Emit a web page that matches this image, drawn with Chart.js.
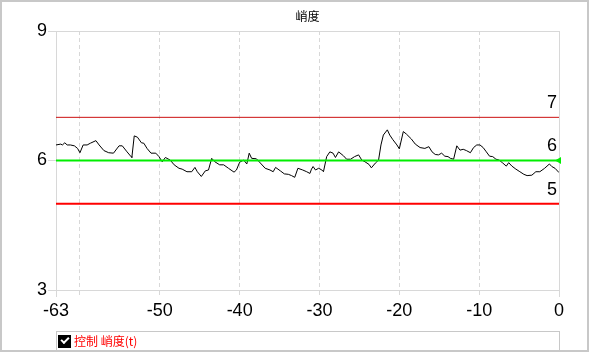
<!DOCTYPE html>
<html>
<head>
<meta charset="utf-8">
<script src="https://cdn.jsdelivr.net/npm/chart.js@4.4.1/dist/chart.umd.min.js"></script>
<style>
  html, body { margin:0; padding:0; background:#fff; }
  #wrap { position:relative; width:591px; height:353px; overflow:hidden; }
  #c { position:absolute; left:0; top:0; }
  #frame { position:absolute; left:0; top:0; width:589px; height:352px; box-sizing:border-box; border:2px solid #c8c8c8; pointer-events:none; }
  #legend { position:absolute; left:56px; top:331px; width:504px; height:20px; box-sizing:border-box; border:1px solid #c8c8c8; }
  #legend .cb { position:absolute; left:1px; top:3px; width:13px; height:13px; background:#000; }
  #legend .cb::after { content:""; position:absolute; left:3px; top:2px; width:6px; height:3px; border-left:2px solid #fff; border-bottom:2px solid #fff; transform:rotate(-45deg); transform-origin:center; }
  #legend .lt { position:absolute; left:17px; top:0px; font-family:"Noto Sans CJK SC", sans-serif; font-size:12px; line-height:18px; color:#ff0000; white-space:nowrap; }
</style>
</head>
<body>
<div id="wrap">
  <canvas id="c" width="591" height="353"></canvas>
  <div id="frame"></div>
  <div id="legend"><span class="cb"></span><span class="lt" id="legendText"></span></div>
</div>
<script>
// ---- data ----
const chartTitle = "峭度";
const seriesLabel = "控制 峭度(t)";
const times = [
  -63, -62.4, -62.2, -61.9, -61.6, -61.2, -60.7, -60.3, -60.0, -59.6,
  -59.1, -58.7, -58.0, -57.6, -57.0, -56.4, -55.8, -55.1, -54.7, -54.1,
  -53.6, -53.5, -53.2, -52.8, -52.3, -52.0, -51.6, -51.1, -50.5, -50.1,
  -49.7, -49.3, -48.7, -48.2, -47.6, -47.2, -46.6, -46.0, -45.6, -45.3,
  -44.8, -44.3, -43.9, -43.5, -43.1, -42.5, -42.0, -41.4, -40.7, -40.4,
  -40.0, -39.5, -39.1, -38.8, -38.5, -37.9, -37.4, -36.8, -36.2, -35.8,
  -35.5, -34.9, -34.4, -33.9, -33.5, -33.1, -32.7, -32.1, -31.6, -31.2,
  -31.0, -30.8, -30.5, -30.1, -29.7, -29.5, -29.1, -28.7, -28.3, -28.0,
  -27.6, -27.0, -26.6, -26.1, -25.6, -25.1, -24.7, -24.3, -23.8, -23.5,
  -23.0, -22.6, -22.3, -22.0, -21.5, -21.2, -20.8, -20.3, -20.0, -19.5,
  -19.1, -18.5, -18.0, -17.4, -16.8, -16.3, -15.9, -15.5, -15.1, -14.7,
  -14.3, -13.9, -13.6, -13.2, -12.8, -12.4, -12.0, -11.6, -11.1, -10.7,
  -10.3, -9.9, -9.5, -9.1, -8.7, -8.3, -7.9, -7.5, -7.1, -6.6,
  -6.3, -5.9, -5.4, -4.9, -4.4, -4.0, -3.4, -2.9, -2.4, -1.8,
  -1.2, -0.9, -0.5, 0
];
const kurtosis = [
  6.36, 6.38, 6.36, 6.41, 6.36, 6.36, 6.34, 6.28, 6.18, 6.36,
  6.36, 6.40, 6.46, 6.36, 6.23, 6.18, 6.17, 6.34, 6.34, 6.20,
  6.09, 6.07, 6.57, 6.54, 6.41, 6.40, 6.28, 6.17, 6.17, 6.09,
  5.97, 6.07, 6.01, 5.90, 5.82, 5.80, 5.74, 5.74, 5.84, 5.74,
  5.63, 5.76, 5.78, 6.05, 5.97, 5.90, 5.90, 5.82, 5.73, 5.78,
  5.96, 6.01, 5.92, 6.17, 6.05, 6.04, 5.94, 5.82, 5.78, 5.74,
  5.84, 5.76, 5.69, 5.68, 5.65, 5.61, 5.82, 5.78, 5.74, 5.70,
  5.80, 5.86, 5.78, 5.82, 5.78, 5.74, 6.09, 6.20, 6.17, 6.07,
  6.20, 6.11, 6.03, 6.03, 6.09, 6.13, 6.01, 5.97, 5.91, 5.83,
  5.94, 6.01, 6.36, 6.59, 6.71, 6.59, 6.48, 6.36, 6.27, 6.67,
  6.61, 6.50, 6.38, 6.30, 6.28, 6.32, 6.20, 6.14, 6.13, 6.17,
  6.10, 6.09, 6.05, 6.03, 6.34, 6.24, 6.26, 6.23, 6.18, 6.30,
  6.36, 6.36, 6.30, 6.20, 6.10, 6.09, 6.03, 6.01, 5.95, 5.87,
  5.95, 5.87, 5.80, 5.74, 5.68, 5.65, 5.66, 5.74, 5.74, 5.82,
  5.92, 5.86, 5.82, 5.72
];
const upperLimit = 7;
const target = 6;
const lowerLimit = 5;
const refLabels = ["7", "6", "5"];
const xTicks = [-63, -60, -50, -40, -30, -20, -10, 0];
const xTickLabels = ["-63", "", "-50", "-40", "-30", "-20", "-10", "0"];
const yTicks = [3, 6, 9];
const xMin = -63, xMax = 0, yMin = 3, yMax = 9;

// ---- chart ----
document.getElementById('legendText').textContent = seriesLabel;

const numFont = { family: "'Liberation Sans', Arial, sans-serif", size: 18 };
const gridColor = '#d8d8d8';
const dashFn = (ctx) => {
  if (!ctx.tick) return [];
  const v = ctx.tick.value;
  return (v === xMin || v === xMax) ? [] : [4, 3];
};

const refLabelPlugin = {
  id: 'refLabels',
  afterDatasetsDraw(chart) {
    const { ctx, chartArea, scales } = chart;
    const vals = [upperLimit, target, lowerLimit];
    ctx.save();
    ctx.font = "18px 'Liberation Sans', Arial, sans-serif";
    ctx.fillStyle = '#000';
    ctx.textAlign = 'right';
    ctx.textBaseline = 'middle';
    vals.forEach((v, i) => {
      ctx.fillText(refLabels[i], chartArea.right - 2, scales.y.getPixelForValue(v) - 14);
    });
    ctx.restore();
  }
};

const hLine = (v) => [{ x: xMin, y: v }, { x: xMax, y: v }];

new Chart(document.getElementById('c'), {
  type: 'line',
  data: {
    datasets: [
      { label: 'target', data: hLine(target), borderColor: '#00ee00', backgroundColor: '#00ee00',
        borderWidth: 2, pointRadius: [0, 4], pointStyle: 'triangle', rotation: -90,
        pointBackgroundColor: '#00ee00', pointBorderColor: '#00ee00', pointBorderWidth: 0, clip: false },
      { label: 'upper', data: hLine(upperLimit), borderColor: '#cc1010', borderWidth: 1, pointRadius: 0 },
      { label: 'lower', data: hLine(lowerLimit), borderColor: '#ff0000', borderWidth: 2, pointRadius: 0 },
      { label: seriesLabel, data: times.map((t, i) => ({ x: t, y: kurtosis[i] })),
        borderColor: '#000', borderWidth: 1, pointRadius: 0, tension: 0 }
    ]
  },
  options: {
    responsive: false,
    animation: false,
    devicePixelRatio: 1,
    layout: { padding: { left: 0, right: 32, top: 0, bottom: 0 } },
    plugins: {
      legend: { display: false },
      tooltip: { enabled: false },
      title: {
        display: true, text: chartTitle, fullSize: false, color: '#000',
        font: { family: "'Noto Sans CJK SC', sans-serif", size: 12, weight: 'normal', lineHeight: 1.2 },
        padding: { top: 9, bottom: 7.6 }
      }
    },
    scales: {
      x: {
        type: 'linear', min: xMin, max: xMax,
        afterBuildTicks: (s) => { s.ticks = xTicks.map(v => ({ value: v })); },
        afterFit: (s) => { s.height = 63; },
        ticks: { font: numFont, color: '#000', padding: 3, maxRotation: 0, autoSkip: false,
                 callback: (v) => { const i = xTicks.indexOf(v); return i >= 0 ? xTickLabels[i] : ''; } },
        grid: { color: gridColor, tickLength: 7, tickBorderDash: dashFn },
        border: { color: gridColor, dash: dashFn }
      },
      y: {
        min: yMin, max: yMax,
        afterBuildTicks: (s) => { s.ticks = yTicks.map(v => ({ value: v })); },
        afterFit: (s) => { s.width = 56; },
        ticks: { font: numFont, color: '#000', padding: 1, callback: (v) => String(v) },
        grid: { color: gridColor, tickLength: 8 },
        border: { color: gridColor }
      }
    }
  },
  plugins: [refLabelPlugin]
});
</script>
</body>
</html>
